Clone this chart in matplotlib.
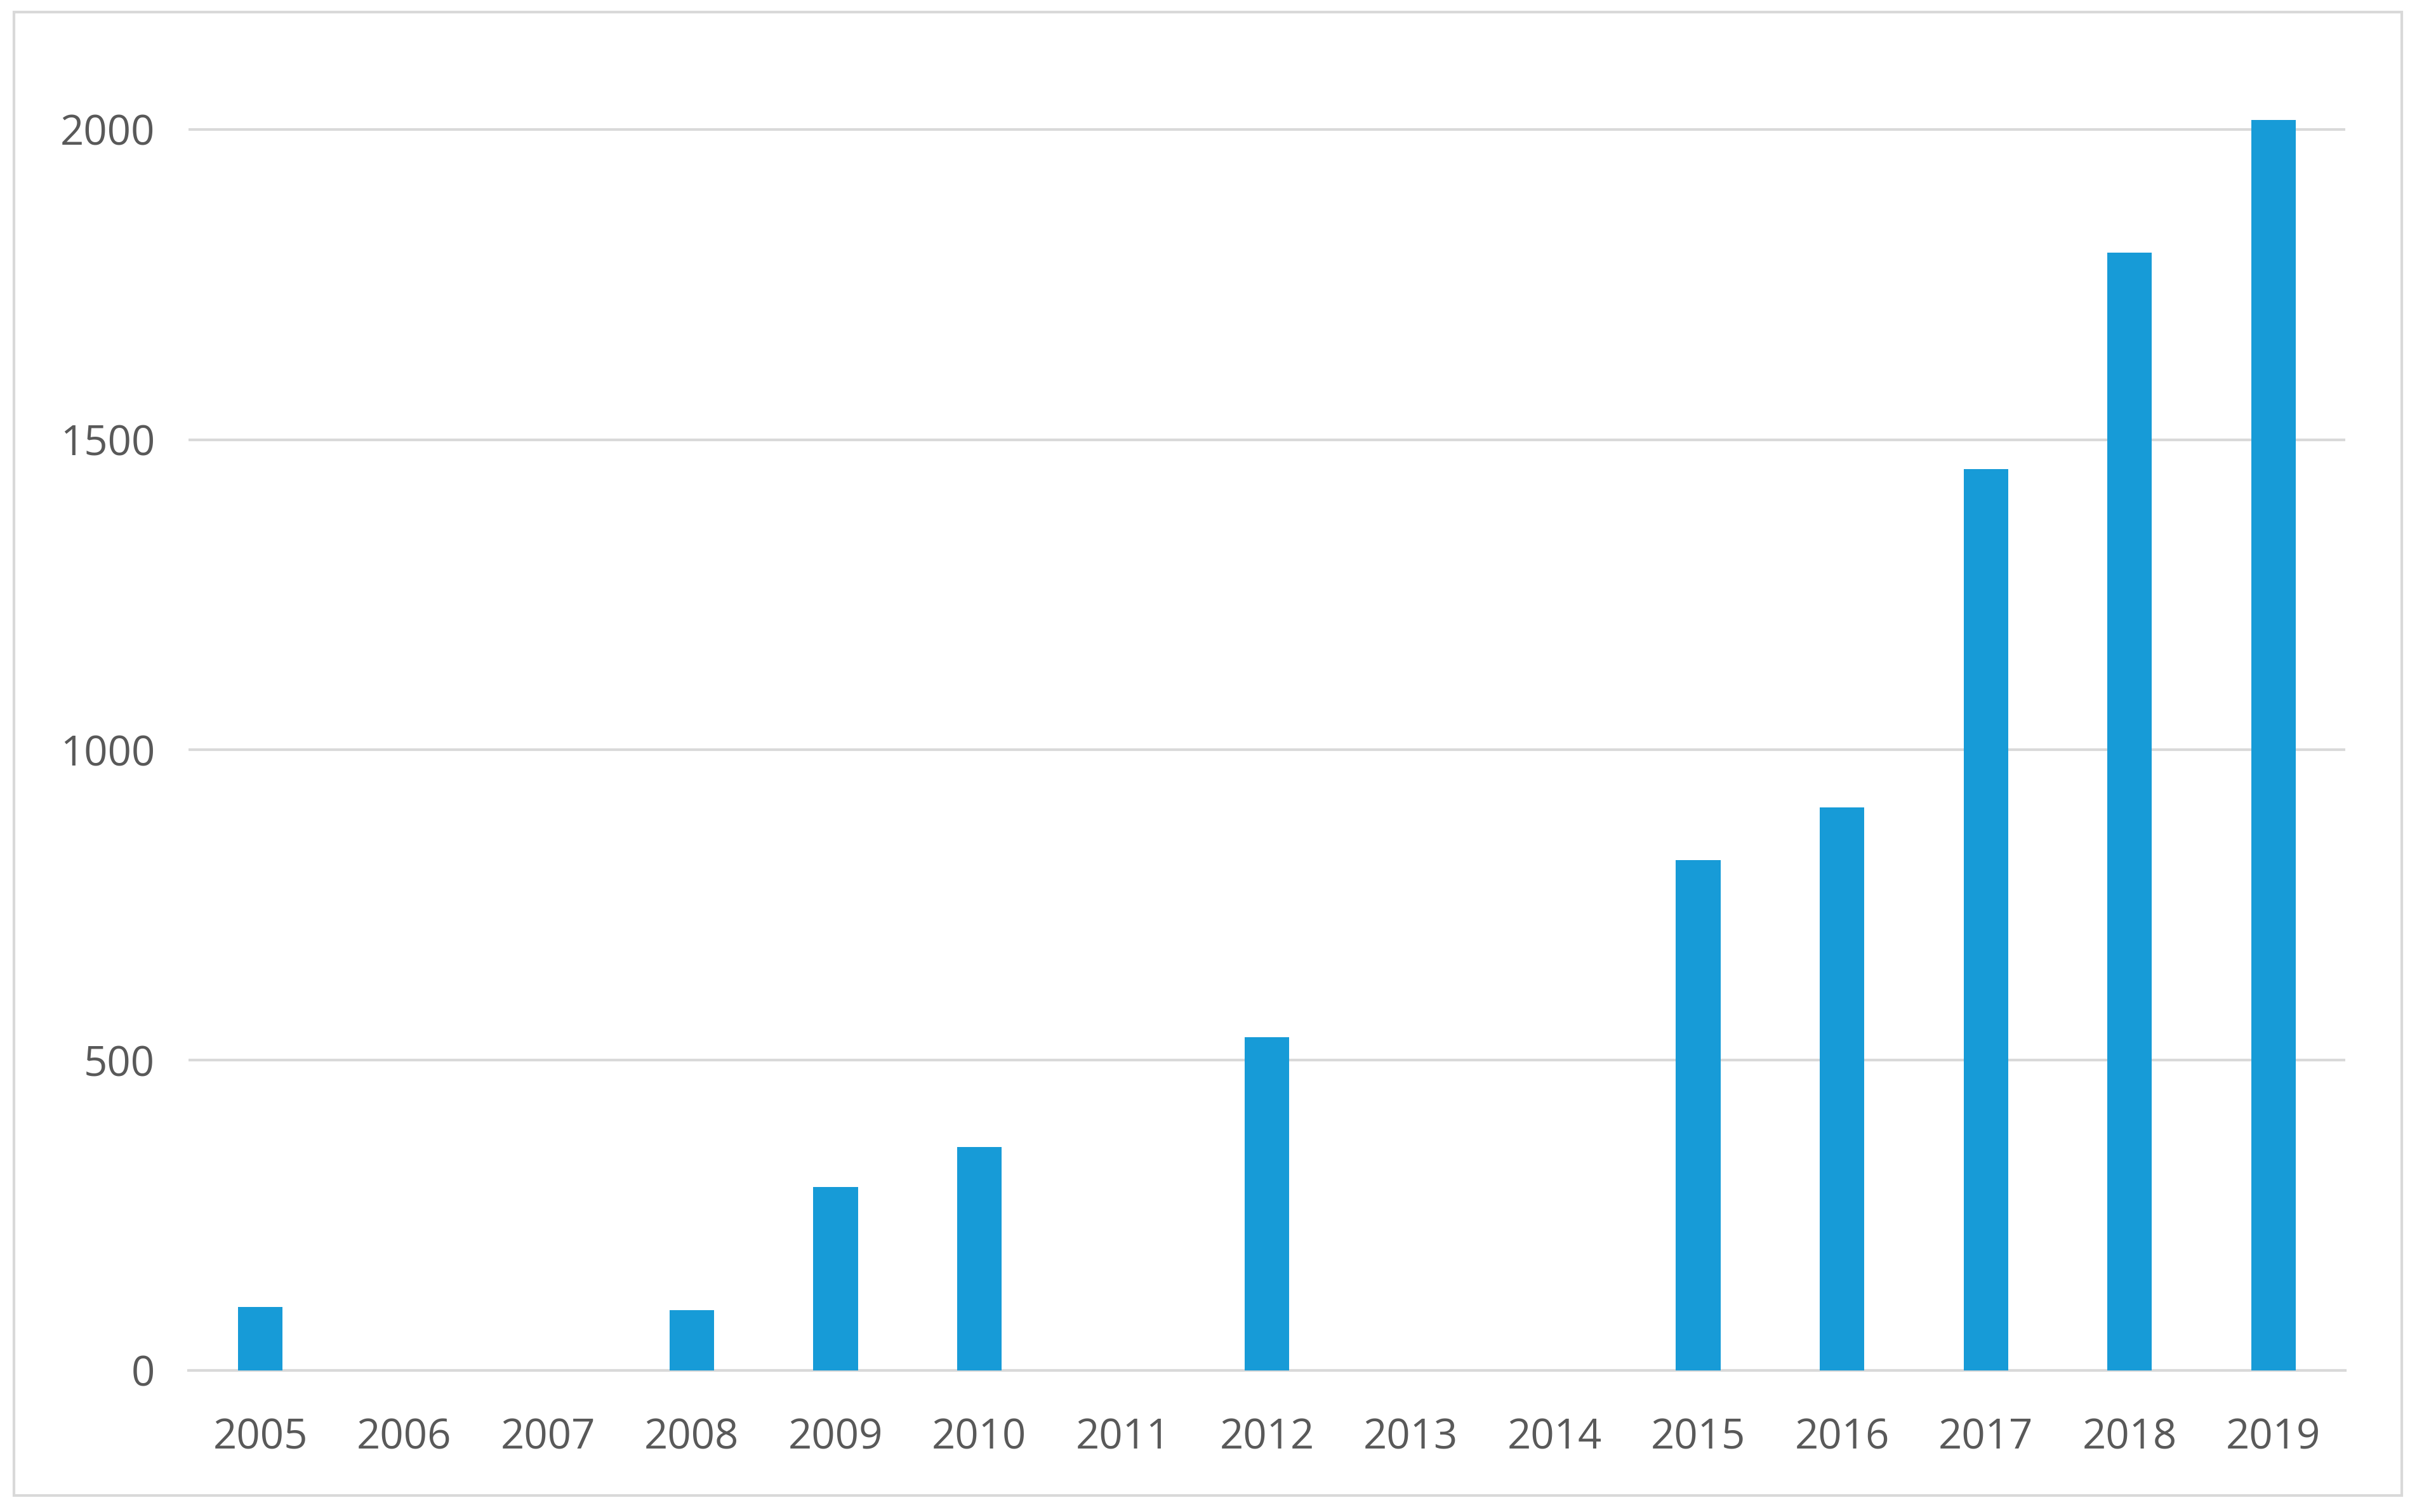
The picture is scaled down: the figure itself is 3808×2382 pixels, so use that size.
import matplotlib
matplotlib.use("Agg")
import matplotlib.pyplot as plt
from matplotlib.patches import Rectangle

years = ["2005", "2006", "2007", "2008", "2009", "2010", "2011", "2012",
         "2013", "2014", "2015", "2016", "2017", "2018", "2019"]
values = [102, 0, 0, 97, 296, 360, 0, 537, 0, 0, 822, 907, 1453, 1801, 2015]
yticks = [0, 500, 1000, 1500, 2000]

W, H = 3808, 2382
fig = plt.figure(figsize=(W / 100, H / 100), dpi=100)
fig.patch.set_facecolor("white")

# outer chart border
fig.patches.append(Rectangle((22 / W, 1 - 2356 / H), (3784 - 22) / W, (2356 - 19) / H,
                             transform=fig.transFigure, fill=False,
                             edgecolor="#D9D9D9", linewidth=3))

left, right = 297 / W, 3695 / W
bottom = 1 - 2159 / H
top = 1 - 150 / H
ax = fig.add_axes([left, bottom, right - left, top - bottom])

x = list(range(len(years)))
ax.bar(x, values, width=0.31, color="#179BD7", zorder=3)

ax.set_xlim(-0.5, len(years) - 0.5)
ax.set_ylim(0, 2055)
ax.set_yticks(yticks)
ax.set_yticklabels([str(v) for v in yticks])
ax.set_xticks(x)
ax.set_xticklabels(years)

ax.yaxis.grid(True, color="#D9D9D9", linewidth=3, zorder=0)
ax.set_axisbelow(True)
for s in ["top", "right", "left"]:
    ax.spines[s].set_visible(False)
ax.spines["bottom"].set_color("#D9D9D9")
ax.spines["bottom"].set_linewidth(3)

ax.tick_params(axis="both", length=0, labelcolor="#595959", labelsize=47)
ax.tick_params(axis="x", pad=53)
ax.tick_params(axis="y", pad=38)
for lab in ax.get_xticklabels() + ax.get_yticklabels():
    lab.set_family("Open Sans")

fig.savefig("out.png", dpi=100, facecolor="white")
